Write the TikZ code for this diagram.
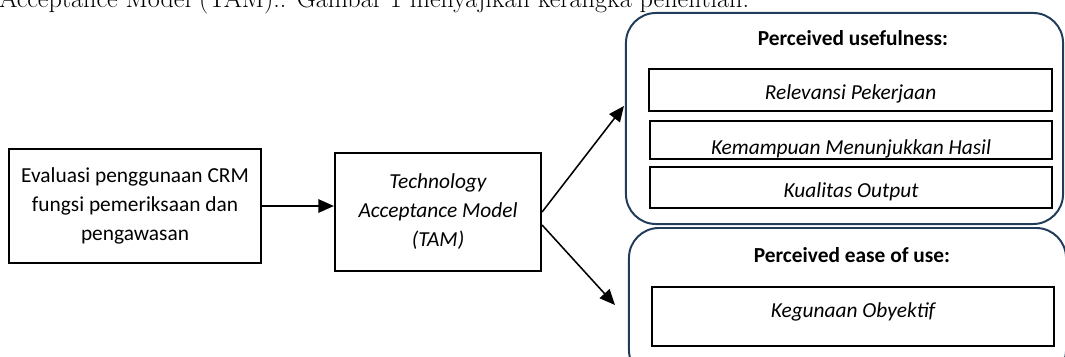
\documentclass[tikz,border=0pt]{standalone}
\usepackage{fontspec}
\setsansfont{Carlito}
\usetikzlibrary{arrows.meta,calc}
\definecolor{bingkai}{HTML}{213C5B}
\newcommand{\teks}{\fontsize{15.2}{20.6}\selectfont}

\begin{document}
\begin{tikzpicture}[x=0.025cm, y=-0.025cm,
    kotak/.style={draw=black, line width=1.5pt, fill=white,
        inner sep=0pt, align=center, font=\sffamily\teks},
    panel/.style={draw=bingkai, line width=1.4pt, fill=white,
        rounded corners=0.75cm, inner sep=0pt},
    isi/.style={draw=black, line width=1.4pt, fill=white,
        inner sep=0pt, text height=13.8pt, text depth=0pt,
        font=\sffamily\itshape\teks},
    judul/.style={font=\sffamily\bfseries\teks, inner sep=0pt},
    panah/.style={-{Triangle[length=11pt,width=9.5pt]}, line width=1.1pt}
    ]
    \useasboundingbox (0,0) rectangle (1065,356);
    % kalimat yang terpotong di atas
    \node[anchor=base west, inner sep=0pt,
        font=\fontsize{18.6}{22}\selectfont] (kalimat) at (-1,7)
        {Acceptance Model (TAM).. Gambar 1 menyajikan kerangka penelitian.};
    % kotak kiri
    \node[kotak, minimum width=6.3cm, minimum height=2.85cm] (evaluasi) at (135,206)
        {Evaluasi penggunaan CRM\\ fungsi pemeriksaan dan\\ pengawasan};
    \node[kotak, font=\sffamily\itshape\teks,
        minimum width=5.15cm, minimum height=2.95cm] (tam) at (438,212)
        {Technology\\ Acceptance Model\\ (TAM)};
    % panel kanan
    \node[panel, minimum width=10.925cm, minimum height=5.275cm] (panelatas) at (844.5,118.5) {};
    \node[panel, minimum width=10.925cm, minimum height=3.8cm] (panelbawah) at (847.5,304) {};
    \node[judul] (judulatas) at (853,38) {Perceived usefulness:};
    \node[isi, minimum width=10.075cm, minimum height=1.05cm] (relevansi) at (850.5,90)
        {Relevansi Pekerjaan};
    \node[isi, minimum width=10.05cm, minimum height=0.95cm] (kemampuan) at (851,140) {};
    \begin{scope}
        \clip (kemampuan.north west) rectangle (kemampuan.south east);
        \node[isi, draw=none, fill=none, anchor=base] (kemampuanteks) at (851,154)
            {Kemampuan Menunjukkan Hasil};
    \end{scope}
    \node[isi, minimum width=10.05cm, minimum height=1.025cm] (kualitas) at (851,187.5)
        {Kualitas Output};
    \node[judul] (judulbawah) at (852,255) {Perceived ease of use:};
    \node[isi, minimum width=10.05cm, minimum height=1.475cm, text depth=11.8pt] (kegunaan) at (853,316.5)
        {Kegunaan Obyektif};
    % panah
    \draw[panah] (evaluasi.east) -- (evaluasi.east -| tam.west);
    \draw[panah] (tam.east) -- ($(panelatas.west)+(-1,-12.5)$);
    \draw[panah] ($(tam.east)+(0,13)$) -- ($(panelbawah.west)+(-13,1)$);
\end{tikzpicture}
\end{document}
